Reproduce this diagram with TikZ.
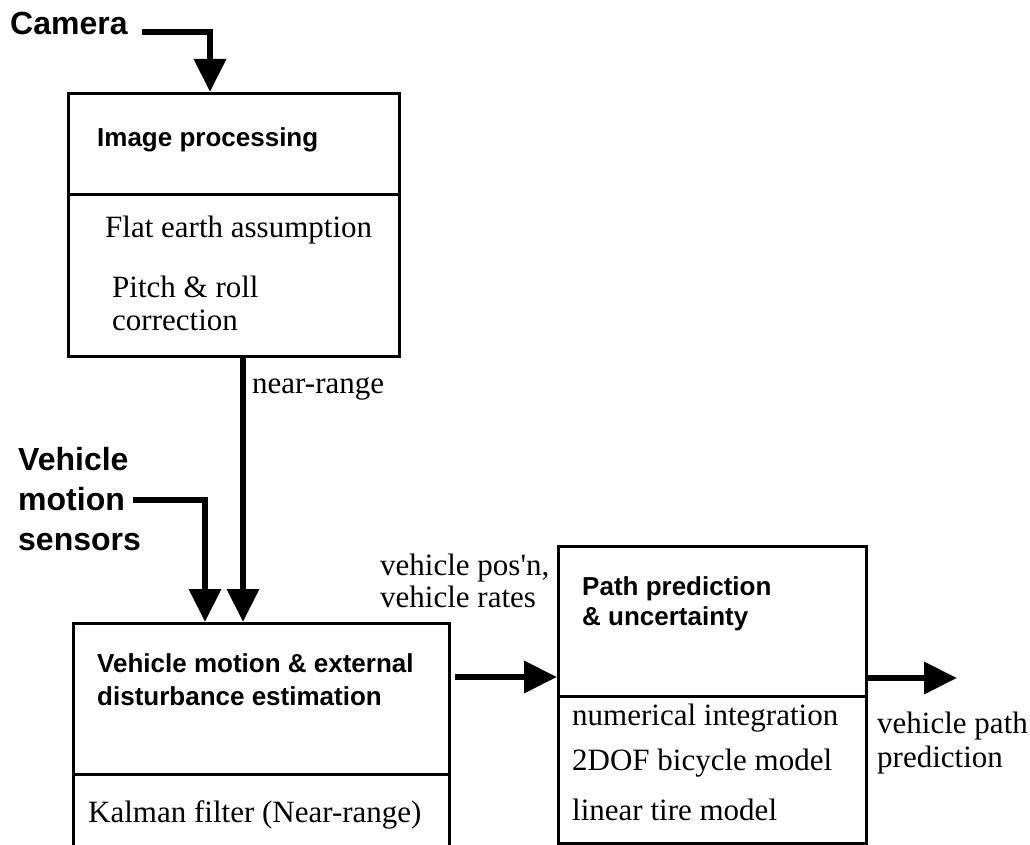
\documentclass[tikz,border=0pt]{standalone}
\usepackage{fontspec}
\setmainfont{Liberation Serif}[Ligatures=TeXOff]
\newfontfamily\hsans{Liberation Sans}
\usetikzlibrary{arrows.meta,calc}
\begin{document}
\begin{tikzpicture}[x=1pt,y=-1pt,
  box/.style={draw=black, line width=3pt, rectangle, inner sep=0pt, anchor=north west},
  conn/.style={draw=black, line width=6.5pt, -{Triangle[length=33pt,width=31pt]}},
  biglab/.style={font=\hsans\bfseries\fontsize{32}{34}\selectfont, inner sep=0pt, anchor=base west},
  title/.style={font=\hsans\bfseries\fontsize{26}{28}\selectfont, inner sep=0pt, anchor=base west},
  txt/.style={font=\fontsize{31}{33}\selectfont, inner sep=0pt, anchor=base west}]
\useasboundingbox[fill=white] (0,0) rectangle (1030,845);

% boxes
\node[box, minimum width=331pt, minimum height=101pt] (iphead) at (67,92) {};
\node[box, minimum width=331pt, minimum height=162pt] (ipbody) at (67,193) {};
\node[box, minimum width=376pt, minimum height=151pt] (lmhead) at (72,622) {};
\node[box, minimum width=376pt, minimum height=110pt] (lmbody) at (72,773) {};
\node[box, minimum width=308pt, minimum height=150pt] (pphead) at (557,545) {};
\node[box, minimum width=308pt, minimum height=147pt] (ppbody) at (557,695) {};

% texts
\node[biglab] (cam) at (10,35) {Camera};
\node[biglab] (vms1) at (18,470) {Vehicle};
\node[biglab] (vms2) at (18,510) {motion};
\node[biglab] (vms3) at (18,550) {sensors};

\node[title] (ipt) at (97,147) {Image processing};
\node[txt] (ip1) at (105,237) {Flat earth assumption};
\node[txt] (ip2) at (112,297) {Pitch \& roll};
\node[txt] (ip3) at (112,330) {correction};

\node[txt] (nr) at (252,393) {near-range};

\node[title] (lmt1) at (97,672) {Vehicle motion \& external};
\node[title] (lmt2) at (97,705) {disturbance estimation};
\node[txt] (lm1) at (88,822) {Kalman filter (Near-range)};

\node[txt] (vp1) at (380,575) {vehicle pos'n,};
\node[txt] (vp2) at (380,607) {vehicle rates};

\node[title] (ppt1) at (582,595) {Path prediction};
\node[title] (ppt2) at (582,625) {\& uncertainty};
\node[txt] (pp1) at (572,725) {numerical integration};
\node[txt] (pp2) at (572,770) {2DOF bicycle model};
\node[txt] (pp3) at (572,820) {linear tire model};

\node[txt] (out1) at (877,733) {vehicle path};
\node[txt] (out2) at (877,767) {prediction};

% connectors
\coordinate (camstart) at (142,32);
\coordinate (camin) at ($(iphead.north west)+(143,0)$);
\draw[conn] (camstart) -| (camin);

\coordinate (nrout) at ($(ipbody.south west)+(176,0)$);
\coordinate (nrin) at ($(lmhead.north west)+(171,0)$);
\draw[conn] (nrout) -- (nrin);

\coordinate (senstart) at (133,500);
\coordinate (senin) at ($(lmhead.north west)+(133,0)$);
\draw[conn] (senstart) -| (senin);

\coordinate (lmout) at ($(lmhead.north east)+(4,55)$);
\draw[conn] (lmout) -- (pphead.west |- lmout);

\coordinate (ppend) at (957,678);
\draw[conn] (pphead.east |- ppend) -- (ppend);
\end{tikzpicture}
\end{document}
